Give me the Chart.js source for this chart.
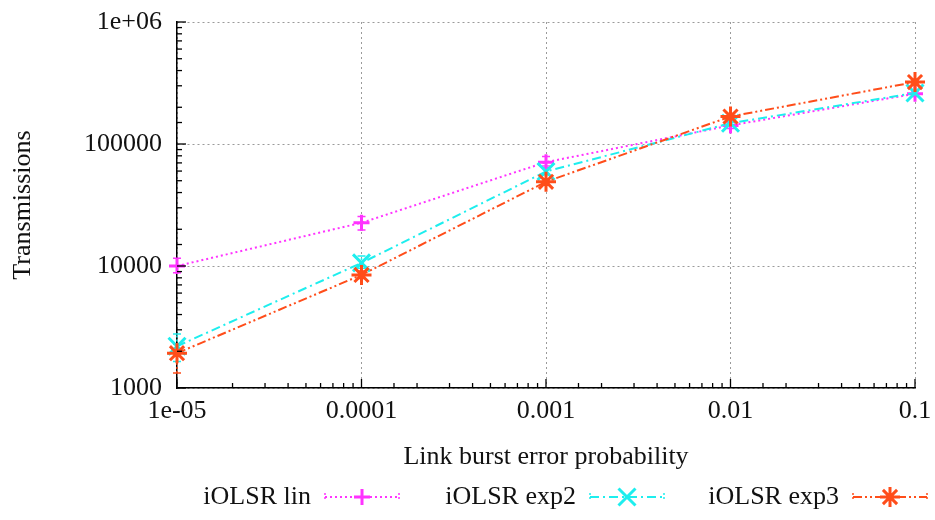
<!DOCTYPE html>
<html><head><meta charset="utf-8">
<script src="https://cdn.jsdelivr.net/npm/chart.js@4"></script>
<style>html,body{margin:0;padding:0;background:#fff}canvas{display:block}</style>
</head><body>
<canvas id="c" width="935" height="520"></canvas>
<script>
// ---- data ----
const xValues = [1e-5, 1e-4, 1e-3, 1e-2, 1e-1];
const xTickLabels = ['1e-05', '0.0001', '0.001', '0.01', '0.1'];
const yTickValues = [1e3, 1e4, 1e5, 1e6];
const yTickLabels = ['1000', '10000', '100000', '1e+06'];
const seriesNames = ['iOLSR lin', 'iOLSR exp2', 'iOLSR exp3'];
const linValues  = [10000, 22600, 71000, 142000, 258000];
const linLow     = [8800, 19700, 66000, 134000, 245000];
const linHigh    = [11600, 25400, 79000, 151000, 272000];
const exp2Values = [2200, 10600, 59500, 148000, 262000];
const exp2Low    = [1650, 9600, 56000, 140000, 250000];
const exp2High   = [2770, 12100, 64000, 157000, 276000];
const exp3Values = [1930, 8450, 49000, 168000, 322000];
const exp3Low    = [1330, 7900, 46000, 160000, 308000];
const exp3High   = [2290, 9100, 52000, 178000, 338000];

// ---- styles ----
const FONT = {family: '"Liberation Serif", "DejaVu Serif", serif', size: 26};
const TXT = '#111';
const styles = [
  {color: '#ff33ff', dash: [2, 3], point: 'cross', radius: 8},
  {color: '#1eeeee', dash: [9, 4, 2, 4], point: 'crossRot', radius: 12},
  {color: '#ff4d1a', dash: [9, 3, 2, 3, 2, 3], point: 'star', radius: 10}
];
const seriesVals = [linValues, exp2Values, exp3Values];
const seriesLow = [linLow, exp2Low, exp3Low];
const seriesHigh = [linHigh, exp2High, exp3High];

function isMajor(v) {
  const l = Math.log10(v);
  return Math.abs(l - Math.round(l)) < 1e-6;
}
function lookup(v, vals, labels) {
  for (let i = 0; i < vals.length; i++) {
    if (Math.abs(Math.log10(v) - Math.log10(vals[i])) < 1e-6) return labels[i];
  }
  return '';
}

const datasets = seriesNames.map((name, k) => ({
  label: name,
  data: xValues.map((x, i) => ({x: x, y: seriesVals[k][i]})),
  errLow: seriesLow[k],
  errHigh: seriesHigh[k],
  borderColor: styles[k].color,
  backgroundColor: styles[k].color,
  borderWidth: 2,
  borderDash: styles[k].dash,
  pointStyle: styles[k].point,
  pointRadius: styles[k].radius,
  pointBorderWidth: 3,
  pointBorderColor: styles[k].color,
  tension: 0,
  fill: false,
  clip: false,
  order: 2 - k
}));

const innerTicks = {
  id: 'innerTicks',
  afterDraw(chart) {
    const ctx = chart.ctx, a = chart.chartArea;
    ctx.save();
    ctx.strokeStyle = '#000';
    ctx.lineWidth = 1.3;
    const ys = chart.scales.y, xs = chart.scales.x;
    ys.ticks.forEach(t => {
      const p = ys.getPixelForValue(t.value);
      const len = isMajor(t.value) ? 9 : 5;
      ctx.beginPath(); ctx.moveTo(a.left, p); ctx.lineTo(a.left + len, p); ctx.stroke();
    });
    xs.ticks.forEach(t => {
      const p = xs.getPixelForValue(t.value);
      const len = isMajor(t.value) ? 9 : 5;
      ctx.beginPath(); ctx.moveTo(p, a.bottom); ctx.lineTo(p, a.bottom - len); ctx.stroke();
    });
    ctx.restore();
  }
};

const errorBars = {
  id: 'errorBars',
  beforeDatasetsDraw(chart) {
    const ctx = chart.ctx, xs = chart.scales.x, ys = chart.scales.y;
    ctx.save();
    chart.data.datasets.forEach((ds, k) => {
      ctx.strokeStyle = ds.borderColor;
      ctx.lineWidth = 1.5;
      ds.data.forEach((pt, i) => {
        const px = xs.getPixelForValue(pt.x);
        const lo = ys.getPixelForValue(ds.errLow[i]);
        const hi = ys.getPixelForValue(ds.errHigh[i]);
        ctx.setLineDash([2, 2]);
        ctx.beginPath(); ctx.moveTo(px, lo); ctx.lineTo(px, hi); ctx.stroke();
        ctx.setLineDash([]);
        ctx.beginPath();
        ctx.moveTo(px - 4, lo); ctx.lineTo(px + 4, lo);
        ctx.moveTo(px - 4, hi); ctx.lineTo(px + 4, hi);
        ctx.stroke();
      });
    });
    ctx.restore();
  }
};

const keyLegend = {
  id: 'keyLegend',
  afterDraw(chart) {
    const ctx = chart.ctx;
    const centers = [362, 627, 890];
    const half = 37, y = 497;
    ctx.save();
    ctx.font = FONT.size + 'px ' + FONT.family;
    ctx.textAlign = 'right';
    ctx.textBaseline = 'middle';
    chart.data.datasets.forEach((ds, k) => {
      const cx = centers[k];
      ctx.fillStyle = TXT;
      ctx.fillText(ds.label, cx - half - 14, y);
      ctx.strokeStyle = ds.borderColor;
      ctx.lineWidth = 2;
      ctx.setLineDash(ds.borderDash);
      ctx.beginPath(); ctx.moveTo(cx - half, y); ctx.lineTo(cx + half, y); ctx.stroke();
      ctx.setLineDash([2, 2]);
      ctx.lineWidth = 1.5;
      ctx.beginPath();
      ctx.moveTo(cx - half, y - 4); ctx.lineTo(cx - half, y + 4);
      ctx.moveTo(cx + half, y - 4); ctx.lineTo(cx + half, y + 4);
      ctx.stroke();
      ctx.setLineDash([]);
      ctx.lineWidth = 3;
      Chart.helpers.drawPoint(ctx, {pointStyle: ds.pointStyle, radius: ds.pointRadius, rotation: 0, borderWidth: 3}, cx, y);
    });
    ctx.restore();
  }
};

new Chart(document.getElementById('c'), {
  type: 'line',
  data: {datasets: datasets},
  plugins: [errorBars, innerTicks, keyLegend],
  options: {
    responsive: false,
    animation: false,
    layout: {padding: {left: 0, right: 20, top: 22, bottom: 47}},
    plugins: {legend: {display: false}, tooltip: {enabled: false}},
    scales: {
      x: {
        type: 'logarithmic', min: xValues[0], max: xValues[xValues.length - 1],
        afterFit(s) { s.height = 85; s.paddingLeft = 0; s.paddingRight = 0; },
        ticks: {autoSkip: false, maxRotation: 0, minRotation: 0, padding: 8, font: FONT, color: TXT,
          callback: v => isMajor(v) ? lookup(v, xValues, xTickLabels) : ''},
        grid: {drawTicks: false, lineWidth: 1,
          color: c => (c.tick && isMajor(c.tick.value)) ? '#9a9a9a' : 'rgba(0,0,0,0)'},
        border: {display: true, color: '#000', width: 1.5, dash: [2, 3]},
        title: {display: true, text: 'Link burst error probability', font: FONT, color: TXT, padding: {top: 0, bottom: 0}}
      },
      y: {
        type: 'logarithmic', min: yTickValues[0], max: yTickValues[yTickValues.length - 1],
        afterFit(s) { s.width = 177; s.paddingTop = 0; s.paddingBottom = 0; },
        ticks: {autoSkip: false, padding: 15, font: FONT, color: TXT,
          callback: v => isMajor(v) ? lookup(v, yTickValues, yTickLabels) : ''},
        grid: {drawTicks: false, lineWidth: 1,
          color: c => (c.tick && isMajor(c.tick.value)) ? '#9a9a9a' : 'rgba(0,0,0,0)'},
        border: {display: true, color: '#000', width: 1.5, dash: [2, 3]},
        title: {display: true, text: 'Transmissions', font: FONT, color: TXT, padding: {top: 8, bottom: 0}}
      }
    }
  }
});
</script>
</body></html>
